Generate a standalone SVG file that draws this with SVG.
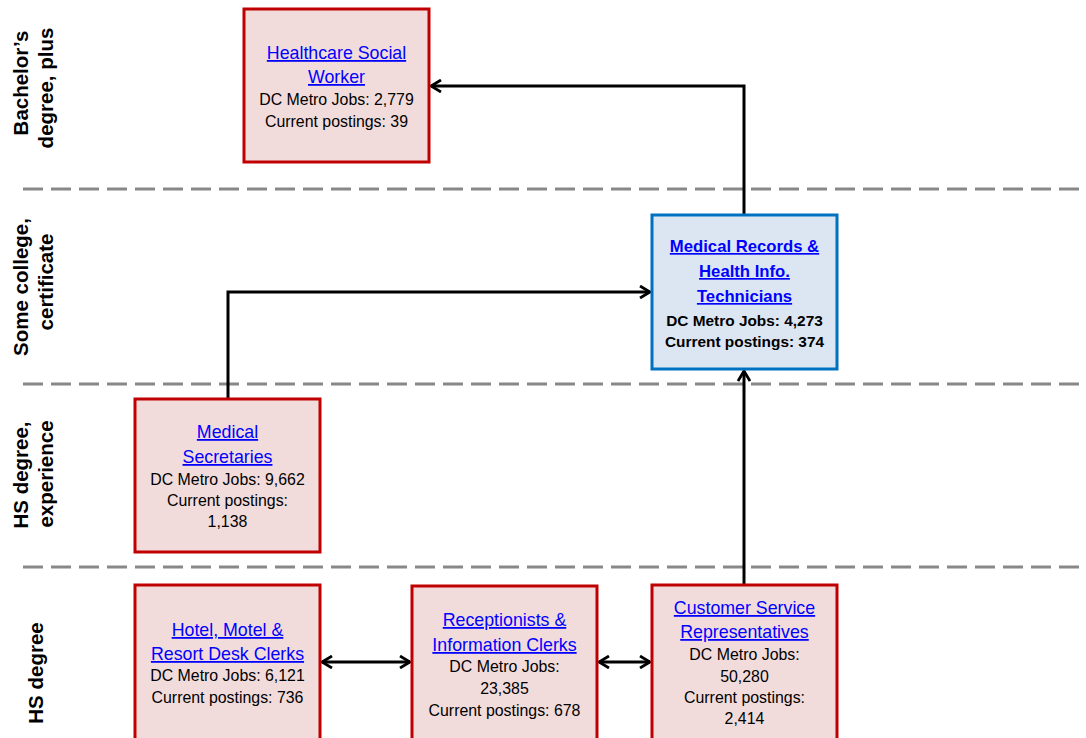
<svg xmlns="http://www.w3.org/2000/svg" width="1086" height="738" viewBox="0 0 1086 738">
<style>
.band{stroke:#888;stroke-width:3;stroke-dasharray:20 8;fill:none}
.side{font-family:"Liberation Sans",Arial,sans-serif;font-weight:bold;font-size:20.5px;fill:#000;text-anchor:middle}
.red{fill:#F2DCDB;stroke:#C00000;stroke-width:3}
.blue{fill:#DCE6F2;stroke:#0070C0;stroke-width:3}
.t{font-family:"Liberation Sans",Arial,sans-serif;text-anchor:middle}
.ttl{font-size:17.8px;fill:#0000FF;text-decoration:underline}
.det{font-size:15.9px;fill:#000}
.b .ttl{font-size:16.7px;font-weight:bold}
.b .det{font-size:15.4px;font-weight:bold}
.conn{stroke:#000;stroke-width:3;fill:none}
</style>
<defs>
<marker id="ah" viewBox="0 0 12 14" refX="11" refY="7" markerWidth="12" markerHeight="14" markerUnits="userSpaceOnUse" orient="auto-start-reverse">
<path d="M1,1 L11,7 L1,13" fill="none" stroke="#000" stroke-width="2.8"/>
</marker>
</defs>
<rect width="1086" height="738" fill="#fff"/>
<g id="bands">
<line class="band" x1="23" y1="189" x2="1086" y2="189"/>
<line class="band" x1="23" y1="384" x2="1086" y2="384"/>
<line class="band" x1="23" y1="567" x2="1086" y2="567"/>
</g>
<g id="side-labels">
<text class="side" transform="translate(28,83) rotate(-90)">Bachelor’s</text>
<text class="side" transform="translate(53,88) rotate(-90)">degree, plus</text>
<text class="side" transform="translate(28,287) rotate(-90)">Some college,</text>
<text class="side" transform="translate(53,282) rotate(-90)">certificate</text>
<text class="side" transform="translate(28,475) rotate(-90)">HS degree,</text>
<text class="side" transform="translate(53,474) rotate(-90)">experience</text>
<text class="side" transform="translate(43,673) rotate(-90)">HS degree</text>
</g>
<g id="connectors">
<polyline class="conn" points="744,215 744,86 431,86" marker-end="url(#ah)"/>
<polyline class="conn" points="228,398 228,292 650,292" marker-end="url(#ah)"/>
<line class="conn" x1="744" y1="585" x2="744" y2="371" marker-end="url(#ah)"/>
<line class="conn" x1="322" y1="662" x2="410" y2="662" marker-start="url(#ah)" marker-end="url(#ah)"/>
<line class="conn" x1="599" y1="662" x2="650" y2="662" marker-start="url(#ah)" marker-end="url(#ah)"/>
</g>
<g id="healthcare-social-worker">
<rect class="red" x="244" y="9" width="185" height="153"/>
<text class="t"><tspan class="ttl" x="336.5" y="59">Healthcare Social</tspan><tspan class="ttl" x="336.5" y="83">Worker</tspan><tspan class="det" x="336.5" y="105">DC Metro Jobs: 2,779</tspan><tspan class="det" x="336.5" y="127">Current postings: 39</tspan></text>
</g>
<g id="medical-records" class="b">
<rect class="blue" x="652" y="215" width="185" height="154"/>
<text class="t"><tspan class="ttl" x="744.5" y="252">Medical Records &amp;</tspan><tspan class="ttl" x="744.5" y="277">Health Info.</tspan><tspan class="ttl" x="744.5" y="302">Technicians</tspan><tspan class="det" x="744.5" y="326">DC Metro Jobs: 4,273</tspan><tspan class="det" x="744.5" y="347">Current postings: 374</tspan></text>
</g>
<g id="medical-secretaries">
<rect class="red" x="135" y="399" width="185" height="153"/>
<text class="t"><tspan class="ttl" x="227.5" y="438">Medical</tspan><tspan class="ttl" x="227.5" y="463">Secretaries</tspan><tspan class="det" x="227.5" y="485">DC Metro Jobs: 9,662</tspan><tspan class="det" x="227.5" y="506">Current postings:</tspan><tspan class="det" x="227.5" y="527">1,138</tspan></text>
</g>
<g id="hotel-desk-clerks">
<rect class="red" x="135" y="585" width="185" height="160"/>
<text class="t"><tspan class="ttl" x="227.5" y="636">Hotel, Motel &amp;</tspan><tspan class="ttl" x="227.5" y="660">Resort Desk Clerks</tspan><tspan class="det" x="227.5" y="681">DC Metro Jobs: 6,121</tspan><tspan class="det" x="227.5" y="703">Current postings: 736</tspan></text>
</g>
<g id="receptionists">
<rect class="red" x="412" y="586" width="185" height="160"/>
<text class="t"><tspan class="ttl" x="504.5" y="626">Receptionists &amp;</tspan><tspan class="ttl" x="504.5" y="651">Information Clerks</tspan><tspan class="det" x="504.5" y="672">DC Metro Jobs:</tspan><tspan class="det" x="504.5" y="694">23,385</tspan><tspan class="det" x="504.5" y="716">Current postings: 678</tspan></text>
</g>
<g id="customer-service">
<rect class="red" x="652" y="585" width="185" height="160"/>
<text class="t"><tspan class="ttl" x="744.5" y="614">Customer Service</tspan><tspan class="ttl" x="744.5" y="638">Representatives</tspan><tspan class="det" x="744.5" y="660">DC Metro Jobs:</tspan><tspan class="det" x="744.5" y="682">50,280</tspan><tspan class="det" x="744.5" y="703">Current postings:</tspan><tspan class="det" x="744.5" y="724">2,414</tspan></text>
</g>
</svg>
